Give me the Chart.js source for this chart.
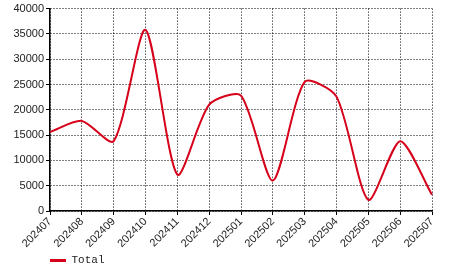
<!DOCTYPE html>
<html lang="en">
<head>
    <meta charset="UTF-8">
    <title>Total</title>
    <style>
        body {
            margin: 0;
            background-color: #ffffff;
        }

        #chart-container {
            width: 466px;
            height: 272px;
        }
    </style>
</head>
<body>
    <div id="chart-container"><canvas id="totalChart"></canvas></div>

    <script src="https://cdn.jsdelivr.net/npm/chart.js"></script>
    <script>
        const months = ['202407', '202408', '202409', '202410', '202411', '202412', '202501',
                        '202502', '202503', '202504', '202505', '202506', '202507'];
        const totalValues = [15600, 17800, 13800, 35800, 7200, 21000, 22800,
                             6000, 25500, 22600, 2200, 13800, 3200];
        const yTicks = [0, 5000, 10000, 15000, 20000, 25000, 30000, 35000, 40000];

        // shift the legend to sit under the plot, like the original
        const legendShift = {
            id: 'legendShift',
            afterLayout(chart) {
                chart.legend.left += 48;
                chart.legend.top += 4;
            }
        };

        const chart = new Chart(document.getElementById('totalChart').getContext('2d'), {
            type: 'line',
            data: {
                labels: months,
                datasets: [{
                    label: 'Total',
                    data: totalValues,
                    borderColor: '#d7001a',
                    backgroundColor: '#d7001a',
                    borderWidth: 2,
                    pointRadius: 0,
                    tension: 0.25,
                    fill: false
                }]
            },
            options: {
                responsive: true,
                maintainAspectRatio: false,
                animation: false,
                layout: { padding: { top: 8, right: 34, left: 0, bottom: 0 } },
                plugins: {
                    tooltip: { enabled: false },
                    legend: {
                        position: 'bottom',
                        align: 'start',
                        labels: {
                            boxWidth: 16,
                            boxHeight: 3,
                            padding: 2,
                            color: '#222',
                            font: { family: 'Liberation Mono', size: 11 },
                            generateLabels(chart) {
                                const items = Chart.defaults.plugins.legend.labels.generateLabels(chart);
                                items.forEach(item => { item.lineWidth = 0; });
                                return items;
                            }
                        }
                    }
                },
                scales: {
                    x: {
                        offset: false,
                        grid: {
                            color: '#000',
                            lineWidth: 1,
                            tickLength: 4,
                            tickBorderDash: [],
                            tickColor: '#000'
                        },
                        border: { display: true, color: '#000', width: 1.5, dash: [1, 2] },
                        ticks: {
                            maxRotation: 45,
                            minRotation: 45,
                            autoSkip: false,
                            color: '#222',
                            padding: 0,
                            font: { family: 'Arial', size: 11 }
                        },
                        afterFit(scale) { scale.height = 38; }
                    },
                    y: {
                        min: 0,
                        max: 40000,
                        afterBuildTicks(scale) {
                            scale.ticks = yTicks.map(v => ({ value: v }));
                        },
                        grid: {
                            color: '#000',
                            lineWidth: 1,
                            tickLength: 4,
                            tickBorderDash: [],
                            tickColor: '#000'
                        },
                        border: { display: true, color: '#000', width: 1.5, dash: [1, 2] },
                        ticks: {
                            color: '#222',
                            padding: 2,
                            font: { family: 'Arial', size: 11 },
                            callback: v => String(v)
                        },
                        afterFit(scale) { scale.width = 50; }
                    }
                }
            },
            plugins: [legendShift]
        });
    </script>
</body>
</html>
